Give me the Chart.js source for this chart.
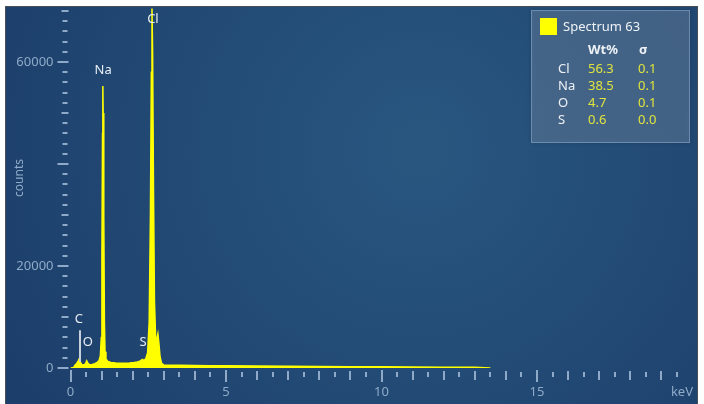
<!DOCTYPE html>
<html>
<head>
<meta charset="utf-8">
<script src="https://cdn.jsdelivr.net/npm/chart.js@4.4.1/dist/chart.umd.min.js"></script>
<style>
  html, body { margin: 0; padding: 0; background: #ffffff; }
  #wrap { width: 704px; height: 404px; }
</style>
</head>
<body>
<div id="wrap"><canvas id="myChart" width="704" height="404"></canvas></div>
<script>
// spectrum (keV vs counts)
var energy = [0.00, 0.10, 0.15, 0.20, 0.25, 0.28, 0.31, 0.36, 0.42, 0.48, 0.52, 0.56, 0.62, 0.70, 0.78, 0.86, 0.92, 0.96, 0.99,
  1.01, 1.03, 1.04, 1.05, 1.07, 1.09, 1.11, 1.14, 1.20, 1.30, 1.45, 1.60, 1.75, 1.90, 2.05, 2.15, 2.25, 2.31, 2.36, 2.42,
  2.48, 2.53, 2.57, 2.60, 2.62, 2.64, 2.67, 2.70, 2.74, 2.78, 2.81, 2.84, 2.88, 2.93, 3.00, 3.20, 3.50, 4.00, 4.50, 5.00,
  6.00, 7.00, 8.00, 9.00, 10.00, 11.00, 12.00, 13.00, 13.50];
var counts = [0, 100, 600, 900, 1400, 1800, 1200, 700, 600, 800, 1400, 900, 600, 700, 850, 1100, 1500, 2400, 6000,
  22000, 46000, 55300, 50000, 30000, 9000, 3200, 1800, 1300, 1100, 1000, 950, 950, 1000, 1100, 1200, 1400, 1700, 1500, 1800,
  3000, 9000, 30000, 58000, 70500, 62000, 34000, 13000, 5500, 5800, 6700, 5000, 2200, 900, 600, 550, 520, 480, 450, 420,
  380, 340, 300, 260, 230, 200, 160, 130, 0];

// peak labels
var peakNames = ['C', 'O', 'Na', 'S', 'Cl'];
var peakKeV = [0.27, 0.56, 1.05, 2.33, 2.65];
var peakLabelCounts = [9600, 5100, 58400, 5100, 68400];

// quant table
var elements = ['Cl', 'Na', 'O', 'S'];
var wtPct = ['56.3', '38.5', '4.7', '0.6'];
var sigma = ['0.1', '0.1', '0.1', '0.0'];
var spectrumName = 'Spectrum 63';

var xTickLabels = [0, 5, 10, 15];
var yTickLabels = [0, 20000, 60000];

var points = [];
for (var i = 0; i < energy.length; i++) {
  points.push({x: energy[i], y: counts[i]});
}

var FONT = '"Noto Sans", "Open Sans", sans-serif';
var AXIS_COL = '#8eaac8';

var decor = {
  id: 'decor',
  beforeDraw: function(chart) {
    var c = chart.ctx;
    c.save();
    c.fillStyle = '#ffffff';
    c.fillRect(0, 0, 704, 404);
    var g = c.createRadialGradient(420, 150, 20, 420, 150, 470);
    g.addColorStop(0, '#28567f');
    g.addColorStop(1, '#1c3e6a');
    c.fillStyle = g;
    c.fillRect(6, 7, 691, 397);
    c.strokeStyle = '#4a4f57';
    c.lineWidth = 1;
    c.strokeRect(5.5, 6.5, 692, 400);
    c.restore();
  },
  afterDraw: function(chart) {
    var c = chart.ctx;
    var xs = chart.scales.x, ys = chart.scales.y;
    var y0 = ys.getPixelForValue(0);
    var x0 = xs.getPixelForValue(0);
    c.save();
    c.fillStyle = AXIS_COL;
    // x ticks
    for (var k = 0; k <= 39; k++) {
      var v = k * 0.5;
      var px = Math.round(xs.getPixelForValue(v)) - 1;
      if (k % 10 === 0) c.fillRect(px, y0 + 2, 2, 12);
      else if (k % 2 === 0) c.fillRect(px, y0 + 3, 2, 9);
      else c.fillRect(px, y0 + 4, 2, 5);
    }
    // y ticks
    for (var m = 0; m <= 35; m++) {
      var vv = m * 2000;
      var py = Math.round(ys.getPixelForValue(vv)) - 1;
      if (m % 10 === 0) c.fillRect(x0 - 13, py, 11, 2);
      else if (m % 5 === 0) c.fillRect(x0 - 9, py, 7, 2);
      else c.fillRect(x0 - 8, py, 5, 2);
    }
    c.font = '13px ' + FONT;
    c.textAlign = 'right';
    c.textBaseline = 'middle';
    c.fillText('keV', 693, 392);

    // y title
    c.save();
    c.translate(20, 178);
    c.rotate(-Math.PI / 2);
    c.textAlign = 'center';
    c.font = '12px ' + FONT;
    c.fillText('counts', 0, 0);
    c.restore();

    // C marker line
    c.fillStyle = '#c8d2dc';
    var cx = Math.round(xs.getPixelForValue(0.277));
    c.fillRect(cx, ys.getPixelForValue(7400), 2, ys.getPixelForValue(1200) - ys.getPixelForValue(7400));

    // peak labels
    c.fillStyle = '#e8eef4';
    c.textAlign = 'center';
    for (var p = 0; p < peakNames.length; p++) {
      c.fillText(peakNames[p], xs.getPixelForValue(peakKeV[p]), ys.getPixelForValue(peakLabelCounts[p]));
    }

    // quant box
    var bx = 531, by = 10, bw = 159, bh = 133;
    c.shadowColor = 'rgba(0,0,0,0.35)';
    c.shadowBlur = 4;
    c.fillStyle = 'rgba(118,148,182,0.42)';
    c.fillRect(bx, by, bw, bh);
    c.shadowBlur = 0;
    c.strokeStyle = 'rgba(150,175,205,0.5)';
    c.strokeRect(bx + 0.5, by + 0.5, bw - 1, bh - 1);
    c.fillStyle = '#ffff00';
    c.fillRect(540, 18, 17, 17);
    c.fillStyle = '#eef2f6';
    c.textAlign = 'left';
    c.font = '13px ' + FONT;
    c.fillText(spectrumName, 563, 27);
    c.font = 'bold 13px ' + FONT;
    c.fillText('Wt%', 588, 50);
    c.fillText('\u03c3', 639, 50);
    c.font = '13px ' + FONT;
    for (var r = 0; r < elements.length; r++) {
      var ry = 69 + r * 17;
      c.fillStyle = '#eef2f6';
      c.fillText(elements[r], 558, ry);
      c.fillStyle = '#e0e43c';
      c.fillText(wtPct[r], 588, ry);
      c.fillText(sigma[r], 638, ry);
    }
    c.restore();
  }
};

var ctx = document.getElementById('myChart');
var myChart = new Chart(ctx, {
  type: 'line',
  data: {
    datasets: [{
      label: spectrumName,
      data: points,
      borderColor: '#ffff00',
      backgroundColor: '#ffff00',
      borderWidth: 1.5,
      fill: 'origin',
      pointRadius: 0,
      tension: 0
    }]
  },
  options: {
    responsive: false,
    animation: false,
    layout: { padding: { top: 7, right: 11.5, left: 0, bottom: 0 } },
    plugins: { legend: { display: false }, tooltip: { enabled: false } },
    scales: {
      x: {
        type: 'linear',
        min: 0,
        max: 20,
        border: { display: false },
        grid: { display: false, drawTicks: false },
        afterFit: function(s) { s.height = 36; s.paddingLeft = 0; s.paddingRight = 0; },
        afterBuildTicks: function(s) { s.ticks = xTickLabels.map(function(v) { return {value: v}; }); },
        ticks: {
          padding: 16,
          color: AXIS_COL,
          font: { family: FONT, size: 13 },
          maxRotation: 0,
          callback: function(v) { return v; }
        }
      },
      y: {
        min: 0,
        max: 70800,
        border: { display: false },
        grid: { display: false, drawTicks: false },
        afterFit: function(s) { s.width = 70.5; s.paddingTop = 0; s.paddingBottom = 0; },
        afterBuildTicks: function(s) { s.ticks = yTickLabels.map(function(v) { return {value: v}; }); },
        ticks: {
          padding: 17,
          color: AXIS_COL,
          font: { family: FONT, size: 13 },
          callback: function(v) { return v; }
        }
      }
    }
  },
  plugins: [decor]
});
</script>
</body>
</html>
